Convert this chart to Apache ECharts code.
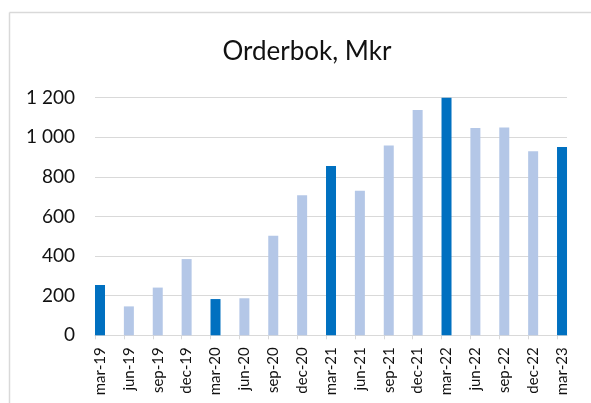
<!DOCTYPE html>
<html>
<head>
<meta charset="utf-8">
<script src="https://cdn.jsdelivr.net/npm/echarts@6/dist/echarts.min.js"></script>
<style>
  html, body { margin: 0; padding: 0; background: #fff; }
  #chart { width: 591px; height: 403px; }
</style>
</head>
<body>
<div id="chart"></div>
<script>
// kvartal
var categories = ['mar-19','jun-19','sep-19','dec-19','mar-20','jun-20','sep-20','dec-20',
  'mar-21','jun-21','sep-21','dec-21','mar-22','jun-22','sep-22','dec-22','mar-23'];
// orderbok, Mkr
var orderbok = [254, 146, 241, 385, 183, 187, 503, 707, 855, 730, 958, 1138, 1200, 1047, 1050, 929, 951];
var yTicks = [0, 200, 400, 600, 800, 1000, 1200];

var font = 'Lato';
var mork = '#0070C0', ljus = '#B4C7E7', gra = '#D9D9D9';

var chart = echarts.init(document.getElementById('chart'));

function fmt(v) {
  return String(v).replace(/\B(?=(\d{3})+(?!\d))/g, ' ');
}

var option = {
  animation: false,
  textStyle: { fontFamily: font },
  title: {
    text: 'Orderbok, Mkr',
    left: 302,
    textAlign: 'center',
    top: 34,
    textStyle: { fontFamily: font, fontSize: 26, fontWeight: 'normal', color: '#111' }
  },
  graphic: [
    { type: 'line', shape: { x1: 9.5, y1: 12.5, x2: 591, y2: 12.5 }, style: { stroke: gra, lineWidth: 1.5 } },
    { type: 'line', shape: { x1: 9.5, y1: 12.5, x2: 9.5, y2: 403 }, style: { stroke: gra, lineWidth: 1.5 } }
  ],
  grid: [
    { left: 95, top: 97.7, width: 472, height: 237.6 },      // y-axel, rutnät, axellinje
    { left: 85.56, top: 97.7, width: 490.9, height: 237.6 },  // staplar
    { left: 95, top: 97.7, width: 462, height: 237.6 }        // skalstreck
  ],
  xAxis: [
    { gridIndex: 0, type: 'category', data: categories, boundaryGap: false,
      axisLine: { lineStyle: { color: gra, width: 1 } },
      axisTick: { show: false }, axisLabel: { show: false } },
    { gridIndex: 1, type: 'category', data: categories, boundaryGap: true,
      axisLine: { show: false }, axisTick: { show: false },
      axisLabel: { rotate: 90, margin: 12, fontSize: 15, color: '#111', fontFamily: font, interval: 0 } },
    { gridIndex: 2, type: 'category', data: categories, boundaryGap: false,
      axisLine: { show: false },
      axisTick: { show: true, length: 4, interval: 0, lineStyle: { color: gra } },
      axisLabel: { show: false } }
  ],
  yAxis: [
    { gridIndex: 0, type: 'value', min: 0, max: 1200, interval: 200,
      axisLine: { show: false }, axisTick: { show: false },
      splitLine: { lineStyle: { color: gra, width: 1 } },
      axisLabel: { fontSize: 19, margin: 20, color: '#111', fontFamily: font,
        formatter: function (v) { return yTicks.indexOf(v) >= 0 ? fmt(v) : ''; } } },
    { gridIndex: 1, type: 'value', min: 0, max: 1200, interval: 200, show: false },
    { gridIndex: 2, type: 'value', min: 0, max: 1200, interval: 200, show: false }
  ],
  series: [{
    type: 'bar',
    xAxisIndex: 1,
    yAxisIndex: 1,
    barWidth: 10,
    data: orderbok.map(function (v, i) {
      return { value: v, itemStyle: { color: categories[i].indexOf('mar') === 0 ? mork : ljus } };
    })
  }]
};

chart.setOption(option);
</script>
</body>
</html>
